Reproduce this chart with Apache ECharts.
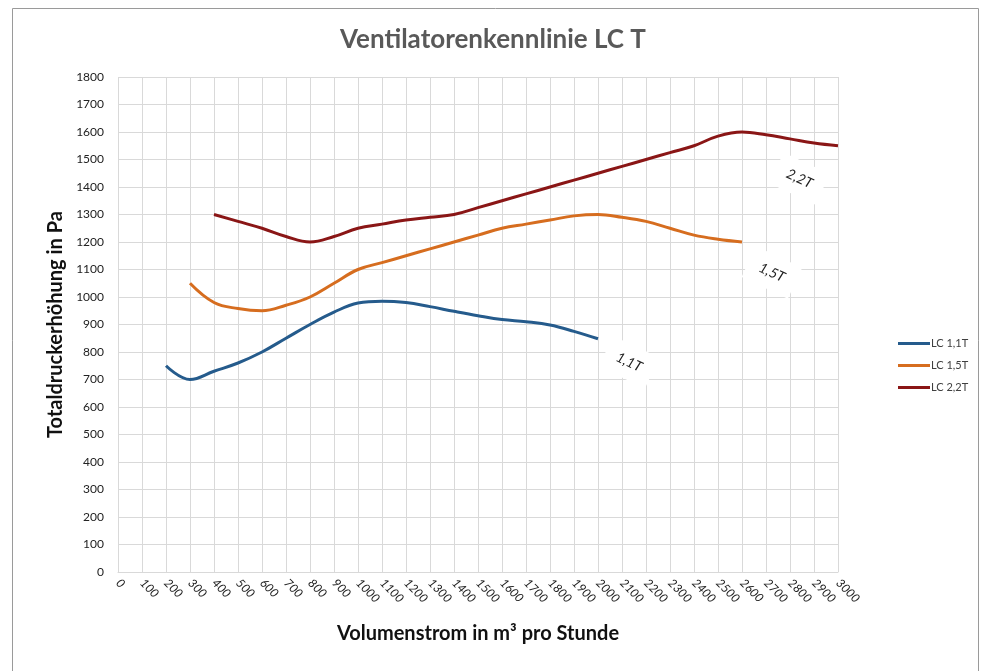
<!DOCTYPE html>
<html>
<head>
<meta charset="utf-8">
<style>
  html, body { margin: 0; padding: 0; background: #fff; }
  #chart { width: 986px; height: 671px; }
</style>
<script src="https://cdn.jsdelivr.net/npm/echarts@6/dist/echarts.min.js"></script>
</head>
<body>
<div id="chart"></div>
<script>
// Fan curves: total pressure rise (Pa) over volume flow (m³/h)
const flow11 = [200, 300, 400, 500, 600, 700, 800, 900, 1000, 1100, 1200, 1300, 1400, 1500, 1600, 1700, 1800, 1900, 2000];
const lc11   = [750, 700, 730, 760, 800, 850, 900, 945, 978, 985, 980, 965, 948, 932, 918, 910, 898, 875, 848];

const flow15 = [300, 400, 500, 600, 700, 800, 900, 1000, 1100, 1200, 1300, 1400, 1500, 1600, 1700, 1800, 1900, 2000, 2100, 2200, 2300, 2400, 2500, 2600];
const lc15   = [1050, 980, 958, 950, 970, 1000, 1050, 1100, 1125, 1150, 1175, 1200, 1225, 1250, 1265, 1280, 1295, 1300, 1290, 1275, 1250, 1225, 1210, 1200];

const flow22 = [400, 500, 600, 700, 800, 900, 1000, 1100, 1200, 1300, 1400, 1500, 1600, 1700, 1800, 1900, 2000, 2100, 2200, 2300, 2400, 2500, 2600, 2700, 2800, 2900, 3000];
const lc22   = [1300, 1275, 1250, 1220, 1200, 1220, 1250, 1265, 1280, 1290, 1300, 1325, 1350, 1375, 1400, 1425, 1450, 1475, 1500, 1525, 1550, 1585, 1600, 1590, 1575, 1560, 1550];

const seriesNames = ['LC 1,1T', 'LC 1,5T', 'LC 2,2T'];
const curveTags   = ['1,1T', '1,5T', '2,2T'];
const colors = ['#255b8c', '#d66d1f', '#8a1616'];

const FONT = 'Lato, "Open Sans", sans-serif';

// Attach the curve tag to the last point of each curve
function buildData(xs, ys, tag) {
  return xs.map((x, i) => {
    const pt = { value: [x, ys[i]] };
    if (i === xs.length - 1) {
      pt.label = {
        show: true,
        formatter: tag,
        rotate: -25,
        position: 'inside',
        color: '#222',
        fontFamily: FONT,
        fontSize: 14,
        fontStyle: 'italic',
        backgroundColor: '#ffffff',
        padding: [10, 12]
      };
    }
    return pt;
  });
}

function lineSeries(idx, xs, ys, shift) {
  return {
    name: seriesNames[idx], type: 'line', smooth: 0.4,
    symbol: 'circle', symbolSize: 0, showSymbol: true,
    color: colors[idx], lineStyle: { width: 3 },
    label: { show: false },
    labelLayout: { dx: shift[0], dy: shift[1], hideOverlap: false },
    z: 3,
    data: buildData(xs, ys, curveTags[idx])
  };
}

const chart = echarts.init(document.getElementById('chart'), null, { renderer: 'canvas' });

chart.setOption({
  animation: false,
  backgroundColor: '#ffffff',
  title: {
    text: 'Ventilatorenkennlinie LC T',
    left: 'center',
    top: 22,
    textStyle: { color: '#595959', fontFamily: FONT, fontWeight: 'bold', fontSize: 26 }
  },
  graphic: [{
    type: 'rect',
    shape: { x: 12.5, y: 8.5, width: 966, height: 700 },
    style: { fill: null, stroke: '#9a9a9a', lineWidth: 1 },
    silent: true
  }],
  legend: {
    orient: 'vertical',
    left: 893,
    top: 333,
    itemWidth: 32,
    itemHeight: 3,
    itemGap: 11,
    icon: 'rect',
    textStyle: { color: '#404040', fontFamily: FONT, fontSize: 11, padding: [0, 0, 0, -4] },
    data: seriesNames
  },
  grid: { left: 118, right: 148, top: 77, bottom: 99, containLabel: false },
  xAxis: {
    type: 'value',
    min: 0, max: 3000, interval: 100,
    name: 'Volumenstrom in m³ pro Stunde',
    nameLocation: 'middle',
    nameGap: 52,
    nameTextStyle: { color: '#111', fontFamily: FONT, fontWeight: 'bold', fontSize: 20 },
    axisLine: { show: true, lineStyle: { color: '#d9d9d9' } },
    axisTick: { show: false },
    axisLabel: { rotate: -45, color: '#222', fontFamily: FONT, fontSize: 12, fontStyle: 'italic', margin: 9, formatter: v => String(v) },
    splitLine: { show: true, lineStyle: { color: '#d9d9d9', width: 1 } }
  },
  yAxis: {
    type: 'value',
    min: 0, max: 1800, interval: 100,
    name: 'Totaldruckerhöhung in Pa',
    nameLocation: 'middle',
    nameGap: 48,
    nameTextStyle: { color: '#111', fontFamily: FONT, fontWeight: 'bold', fontSize: 20 },
    axisLine: { show: false },
    axisTick: { show: false },
    axisLabel: { color: '#222', fontFamily: FONT, fontSize: 12, margin: 14, formatter: v => String(v) },
    splitLine: { show: true, lineStyle: { color: '#d9d9d9', width: 1 } }
  },
  series: [
    lineSeries(0, flow11, lc11, [38, 8]),
    lineSeries(1, flow15, lc15, [40, 15]),
    lineSeries(2, flow22, lc22, [-21, 46])
  ]
});
</script>
</body>
</html>
